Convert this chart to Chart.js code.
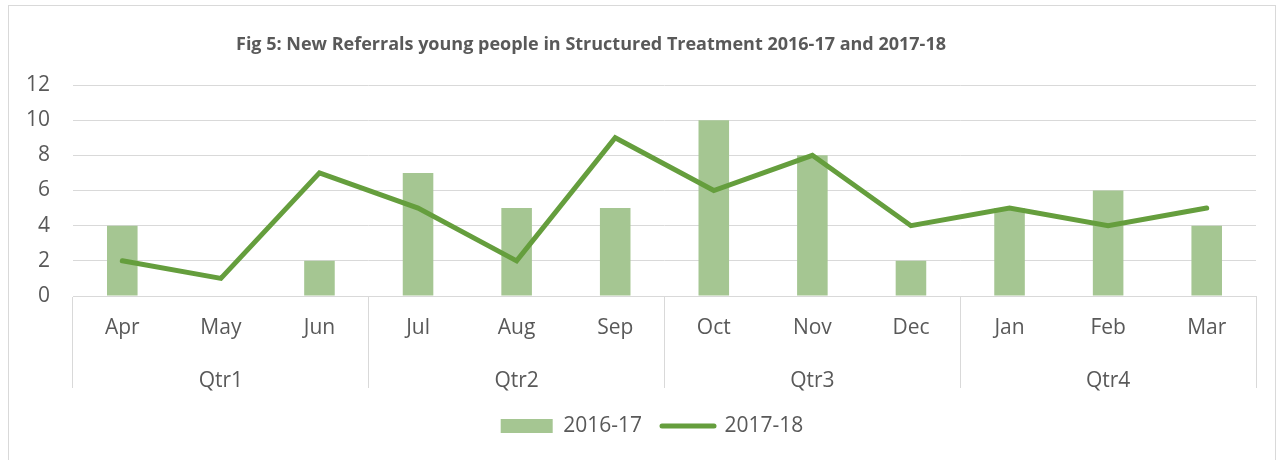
<!DOCTYPE html>
<html>
<head>
<meta charset="utf-8">
<script src="https://cdn.jsdelivr.net/npm/chart.js@4"></script>
<style>
  body { margin: 0; background: #fff; }
  #wrap { position: relative; width: 1285px; height: 460px; overflow: hidden; }
  #frame { position: absolute; left: 8px; top: 5px; width: 1266px; height: 480px; border: 1.5px solid #d9d9d9; }
  #title { position: absolute; left: 236px; top: 31px; font: bold 18px "Open Sans", sans-serif; color: #595959; white-space: nowrap; }
  canvas { position: absolute; left: 0; top: 0; }
</style>
</head>
<body>
<div id="wrap">
  <div id="frame"></div>
  <canvas id="myChart" width="1285" height="460"></canvas>
  <div id="title">Fig 5: New Referrals young people in Structured Treatment 2016-17 and 2017-18</div>
</div>
<script>
    var months = ['Apr', 'May', 'Jun', 'Jul', 'Aug', 'Sep', 'Oct', 'Nov', 'Dec', 'Jan', 'Feb', 'Mar'];
    var quarters = ['Qtr1', 'Qtr2', 'Qtr3', 'Qtr4'];
    var referrals1617 = [4, 0, 2, 7, 5, 5, 10, 8, 2, 5, 6, 4];
    var referrals1718 = [2, 1, 7, 5, 2, 9, 6, 8, 4, 5, 4, 5];
    var yTicks = [0, 2, 4, 6, 8, 10, 12];

    var barColor = '#a5c692';
    var lineColor = '#659e3d';
    var gridColor = '#d9d9d9';
    var textColor = '#595959';
    var font = { family: '"Open Sans", sans-serif', size: 21 };

    // separators only at quarter boundaries, long enough to cross both label rows
    var quarterLine = (ctx) => (ctx.index === undefined || ctx.index % 3 === 0) ? gridColor : 'rgba(0,0,0,0)';

    // nudge legend to the right a bit (excel centres it differently)
    var legendShift = {
        id: 'legendShift',
        afterLayout: (chart) => { chart.legend.left += 10; chart.legend.right += 10; }
    };

    var ctx = document.getElementById('myChart').getContext('2d');
    var chart = new Chart(ctx, {
        type: 'bar',
        data: {
            labels: months,
            datasets: [
                {
                    label: '2016-17',
                    data: referrals1617,
                    backgroundColor: barColor,
                    categoryPercentage: 1,
                    barPercentage: 0.31,
                    order: 1
                },
                {
                    type: 'line',
                    label: '2017-18',
                    data: referrals1718,
                    borderColor: lineColor,
                    borderWidth: 5,
                    borderCapStyle: 'round',
                    pointRadius: 0,
                    tension: 0,
                    order: 0
                }
            ]
        },
        plugins: [legendShift],
        options: {
            responsive: false,
            animation: false,
            layout: { padding: { left: 28, right: 29, top: 85, bottom: 13.5 } },
            scales: {
                x: {
                    position: 'bottom',
                    offset: true,
                    grid: { offset: true, drawOnChartArea: false, tickLength: 92, color: quarterLine, tickColor: quarterLine },
                    border: { color: gridColor },
                    ticks: { color: textColor, font: font, padding: -72.6, maxRotation: 0, autoSkip: false },
                    afterFit: (scale) => { scale.height = 46; }
                },
                x2: {
                    type: 'category',
                    position: 'bottom',
                    labels: quarters,
                    offset: true,
                    grid: { display: false },
                    border: { display: false },
                    ticks: { color: textColor, font: font, padding: 18.4, maxRotation: 0 },
                    afterFit: (scale) => { scale.height = 53.5; }
                },
                y: {
                    min: 0,
                    max: 12,
                    afterBuildTicks: (scale) => { scale.ticks = yTicks.map(v => ({ value: v })); },
                    afterFit: (scale) => { scale.width = 73 - 28; },
                    grid: { color: gridColor, drawTicks: false },
                    border: { display: false },
                    ticks: { color: textColor, font: font, padding: 23 }
                }
            },
            plugins: {
                title: { display: false },
                tooltip: { enabled: false },
                legend: {
                    position: 'bottom',
                    labels: {
                        usePointStyle: true,
                        pointStyleWidth: 52,
                        boxHeight: 14,
                        padding: 20,
                        color: textColor,
                        font: font,
                        generateLabels: (chart) => chart.data.datasets.map((ds, i) => ({
                            text: ds.label,
                            datasetIndex: i,
                            fontColor: textColor,
                            fillStyle: ds.type === 'line' ? lineColor : barColor,
                            strokeStyle: ds.type === 'line' ? lineColor : barColor,
                            lineWidth: ds.type === 'line' ? 5 : 0,
                            lineCap: 'round',
                            pointStyle: ds.type === 'line' ? 'line' : 'rect',
                            hidden: false
                        }))
                    }
                }
            }
        }
    });
</script>
</body>
</html>
